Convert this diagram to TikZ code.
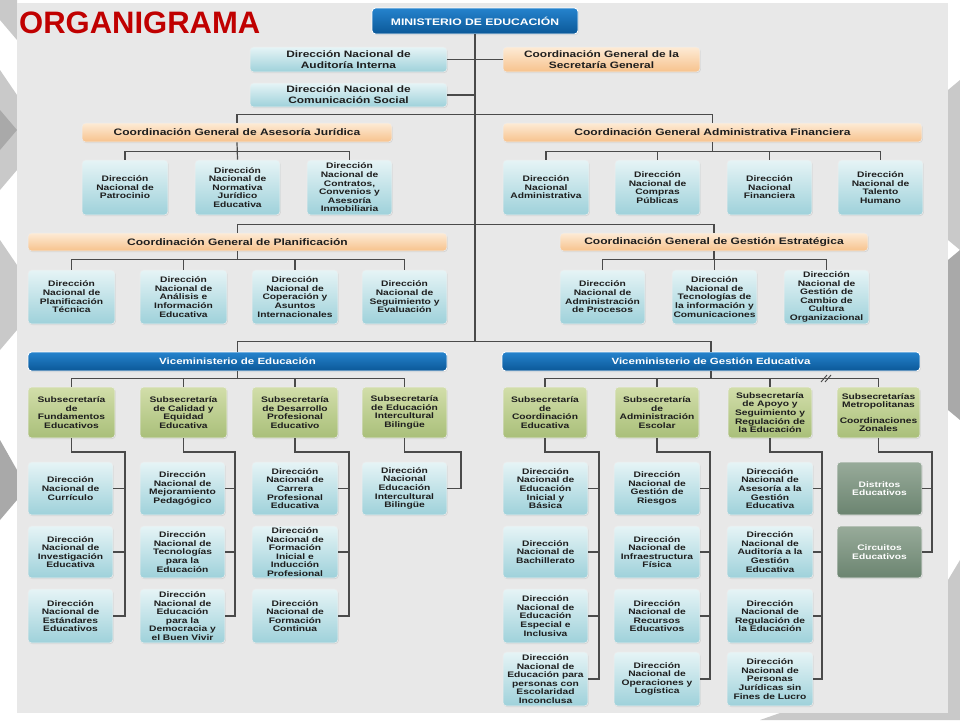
\documentclass[tikz,border=0pt]{standalone}
\usepackage{fontspec}
\setmainfont{Liberation Sans}[FakeStretch=1.28]
\newfontfamily\titlefont{Liberation Sans}
\usetikzlibrary{shadows}
\definecolor{panel}{HTML}{E8E8E8}
\definecolor{lncol}{HTML}{4A4A4A}
\definecolor{txt}{HTML}{1E1E1E}
\definecolor{lbT}{HTML}{E6F4F6}
\definecolor{lbB}{HTML}{9ED1DA}
\definecolor{orT}{HTML}{FDEBD6}
\definecolor{orB}{HTML}{F7C28C}
\definecolor{grT}{HTML}{D2DEAA}
\definecolor{grB}{HTML}{A9BF79}
\definecolor{blT}{HTML}{2583CD}
\definecolor{blB}{HTML}{0B5898}
\definecolor{dkT}{HTML}{98AB9A}
\definecolor{dkB}{HTML}{6B8470}
\definecolor{titred}{HTML}{C00000}
\definecolor{decoA}{HTML}{C9C9C9}
\definecolor{decoB}{HTML}{A9A9A9}
\newcommand\bx[7]{\node[#2, minimum width={#5-#3}, minimum height={#6-#4}] (#1) at ({(#3+#5)/2},{(#4+#6)/2}) {#7};}
\begin{document}
\begin{tikzpicture}[x=1pt,y=-1pt,
  basebox/.style={rounded corners=3.5pt, align=center, inner sep=1pt, draw=white!85!gray, line width=0.6pt,
     drop shadow={opacity=0.18,shadow xshift=0.8pt,shadow yshift=-1pt}},
  smallfont/.style={font=\bfseries\fontsize{8}{8.6}\selectfont},
  lb/.style={basebox, smallfont, top color=lbT, bottom color=lbB, text=txt},
  gr/.style={basebox, smallfont, top color=grT, bottom color=grB, text=txt},
  dk/.style={basebox, smallfont, top color=dkT, bottom color=dkB, text=white},
  topb/.style={basebox, font=\bfseries\fontsize{9.3}{11}\selectfont, top color=lbT, bottom color=lbB, text=txt},
  topo/.style={basebox, font=\bfseries\fontsize{9.3}{11}\selectfont, top color=orT, bottom color=orB, text=txt},
  coord/.style={basebox, font=\bfseries\fontsize{9.4}{11}\selectfont, top color=orT, bottom color=orB, text=txt},
  vice/.style={basebox, draw=white, line width=0.9pt, font=\bfseries\fontsize{9}{11}\selectfont, top color=blT, bottom color=blB, text=white},
  minb/.style={vice, font=\bfseries\fontsize{9.5}{11}\selectfont},
  ln/.style={draw=lncol, line width=1.2pt}]
\useasboundingbox (0,0) rectangle (960,720);
\fill[white] (0,0) rectangle (960,720);
% decorations at the edges
\fill[decoA] (0,0) -- (17,0) -- (17,40) -- (0,20) -- cycle;
\fill[decoA] (0,70) -- (17,95) -- (17,170) -- (0,190) -- cycle;
\fill[decoB] (0,110) -- (17,130) -- (0,150) -- cycle;
\fill[decoA] (0,240) -- (17,265) -- (17,330) -- (0,350) -- cycle;
\fill[decoB] (0,440) -- (17,470) -- (17,500) -- (0,520) -- cycle;
\fill[decoA] (948,90) -- (960,80) -- (960,250) -- (948,240) -- cycle;
\fill[decoB] (948,260) -- (960,250) -- (960,420) -- (948,410) -- cycle;
\fill[decoA] (948,580) -- (960,560) -- (960,720) -- (948,720) -- cycle;
\fill[decoA] (780,713) -- (948,713) -- (948,720) -- (760,720) -- cycle;
\fill[panel] (17,3) rectangle (948,713);
% title
\node[anchor=base west, inner sep=0pt, text=titred, font=\titlefont\bfseries\fontsize{31}{31}\selectfont] (title) at (19,33) {ORGANIGRAMA};
% top
\bx{min}{minb}{372}{8}{578}{34}{MINISTERIO DE EDUCACIÓN}
\bx{aud}{topb}{250}{47}{447}{72}{Dirección Nacional de\\Auditoría Interna}
\bx{sec}{topo}{503}{47}{700}{72}{Coordinación General de la\\Secretaría General}
\bx{com}{topb}{250}{83}{447}{107}{Dirección Nacional de\\Comunicación Social}
\bx{cgaj}{coord}{82}{123}{392}{142}{Coordinación General de Asesoría Jurídica}
\bx{cgaf}{coord}{503}{123}{922}{142}{Coordinación General Administrativa Financiera}
% row A
\bx{pat}{lb}{82}{160}{168}{215}{Dirección\\Nacional de\\Patrocinio}
\bx{nor}{lb}{195}{160}{280}{215}{Dirección\\Nacional de\\Normativa\\Jurídico\\Educativa}
\bx{con}{lb}{307}{160}{392}{215}{Dirección\\Nacional de\\Contratos,\\Convenios y\\Asesoría\\Inmobiliaria}
\bx{adm}{lb}{503}{160}{589}{215}{Dirección\\Nacional\\Administrativa}
\bx{cpu}{lb}{615}{160}{700}{215}{Dirección\\Nacional de\\Compras\\Públicas}
\bx{fin}{lb}{727}{160}{812}{215}{Dirección\\Nacional\\Financiera}
\bx{tal}{lb}{838}{160}{923}{215}{Dirección\\Nacional de\\Talento\\Humano}
% planning row
\bx{cgp}{coord}{28}{233}{447}{251}{Coordinación General de Planificación}
\bx{cgge}{coord}{560}{233}{868}{251}{Coordinación General de Gestión Estratégica}
\bx{p1}{lb}{28}{270}{115}{324}{Dirección\\Nacional de\\Planificación\\Técnica}
\bx{p2}{lb}{140}{270}{227}{324}{Dirección\\Nacional de\\Análisis e\\Información\\Educativa}
\bx{p3}{lb}{252}{270}{338}{324}{Dirección\\Nacional de\\Coperación y\\Asuntos\\Internacionales}
\bx{p4}{lb}{362}{270}{447}{324}{Dirección\\Nacional de\\Seguimiento y\\Evaluación}
\bx{g1}{lb}{560}{270}{645}{324}{Dirección\\Nacional de\\Administración\\de Procesos}
\bx{g2}{lb}{672}{270}{757}{324}{Dirección\\Nacional de\\Tecnologías de\\la información y\\Comunicaciones}
\bx{g3}{lb}{784}{270}{869}{324}{Dirección\\Nacional de\\Gestión de\\Cambio de\\Cultura\\Organizacional}
% vice
\bx{ve}{vice}{28}{352}{447}{371}{Viceministerio de Educación}
\bx{vge}{vice}{502}{352}{920}{371}{Viceministerio de Gestión Educativa}
% subsecretarias
\bx{s1}{gr}{28}{387}{115}{438}{Subsecretaría\\de\\Fundamentos\\Educativos}
\bx{s2}{gr}{140}{387}{227}{438}{Subsecretaría\\de Calidad y\\Equidad\\Educativa}
\bx{s3}{gr}{252}{387}{338}{438}{Subsecretaría\\de Desarrollo\\Profesional\\Educativo}
\bx{s4}{gr}{362}{387}{447}{438}{Subsecretaría\\de Educación\\Intercultural\\Bilingüe}
\bx{s5}{gr}{503}{387}{587}{438}{Subsecretaría\\de\\Coordinación\\Educativa}
\bx{s6}{gr}{615}{387}{699}{438}{Subsecretaría\\de\\Administración\\Escolar}
\bx{s7}{gr}{728}{387}{812}{438}{Subsecretaría\\de Apoyo y\\Seguimiento y\\Regulación de\\la Educación}
\bx{s8}{gr}{837}{387}{920}{438}{Subsecretarías\\Metropolitanas\\[7pt]Coordinaciones\\Zonales}
% children col 1-4
\bx{a1}{lb}{28}{462}{113}{515}{Dirección\\Nacional de\\Currículo}
\bx{a2}{lb}{28}{526}{113}{578}{Dirección\\Nacional de\\Investigación\\Educativa}
\bx{a3}{lb}{28}{589}{113}{643}{Dirección\\Nacional de\\Estándares\\Educativos}
\bx{b1}{lb}{140}{462}{225}{515}{Dirección\\Nacional de\\Mejoramiento\\Pedagógico}
\bx{b2}{lb}{140}{526}{225}{578}{Dirección\\Nacional de\\Tecnologías\\para la\\Educación}
\bx{b3}{lb}{140}{589}{225}{643}{Dirección\\Nacional de\\Educación\\para la\\Democracia y\\el Buen Vivir}
\bx{c1}{lb}{252}{462}{338}{515}{Dirección\\Nacional de\\Carrera\\Profesional\\Educativa}
\bx{c2}{lb}{252}{526}{338}{578}{Dirección\\Nacional de\\Formación\\Inicial e\\Inducción\\Profesional}
\bx{c3}{lb}{252}{589}{338}{643}{Dirección\\Nacional de\\Formación\\Continua}
\bx{e1}{lb}{362}{462}{447}{515}{Dirección\\Nacional\\Educación\\Intercultural\\Bilingüe}
% children col 5-8
\bx{f1}{lb}{503}{462}{588}{515}{Dirección\\Nacional de\\Educación\\Inicial y\\Básica}
\bx{f2}{lb}{503}{526}{588}{578}{Dirección\\Nacional de\\Bachillerato}
\bx{f3}{lb}{503}{589}{588}{643}{Dirección\\Nacional de\\Educación\\Especial e\\Inclusiva}
\bx{f4}{lb}{503}{652}{588}{706}{Dirección\\Nacional de\\Educación para\\personas con\\Escolaridad\\Inconclusa}
\bx{h1}{lb}{614}{462}{700}{515}{Dirección\\Nacional de\\Gestión de\\Riesgos}
\bx{h2}{lb}{614}{526}{700}{578}{Dirección\\Nacional de\\Infraestructura\\Física}
\bx{h3}{lb}{614}{589}{700}{643}{Dirección\\Nacional de\\Recursos\\Educativos}
\bx{h4}{lb}{614}{652}{700}{706}{Dirección\\Nacional de\\Operaciones y\\Logística}
\bx{k1}{lb}{727}{462}{813}{515}{Dirección\\Nacional de\\Asesoría a la\\Gestión\\Educativa}
\bx{k2}{lb}{727}{526}{813}{578}{Dirección\\Nacional de\\Auditoría a la\\Gestión\\Educativa}
\bx{k3}{lb}{727}{589}{813}{643}{Dirección\\Nacional de\\Regulación de\\la Educación}
\bx{k4}{lb}{727}{652}{813}{706}{Dirección\\Nacional de\\Personas\\Jurídicas sin\\Fines de Lucro}
\bx{m1}{dk}{837}{462}{922}{515}{Distritos\\Educativos}
\bx{m2}{dk}{837}{526}{922}{578}{Circuitos\\Educativos}
% ---- connectors
\coordinate (tend) at (475,342);
\draw[ln] (min.south) -- (tend);
\draw[ln] (aud.east) -- (aud.east -| min.south);
\draw[ln] (sec.west) -- (sec.west -| min.south);
\draw[ln] (com.east) -- (com.east -| min.south);
\draw[ln] (cgaj.north) -- ++(0,-8) -| (cgaf.north);
\draw[ln] (cgaj.south) -- (nor.north);
\draw[ln] (pat.north) -- ++(0,-8) -| (con.north);
\draw[ln] (cgaf.south) -- ++(0,10);
\draw[ln] (adm.north) -- ++(0,-8) -| (tal.north);
\draw[ln] (cpu.north) -- ++(0,-8);
\draw[ln] (fin.north) -- ++(0,-8);
\draw[ln] (cgp.north) -- ++(0,-8) -| (cgge.north);
\draw[ln] (cgp.south) -- ++(0,9);
\draw[ln] (p1.north) -- ++(0,-10) -| (p4.north);
\draw[ln] (p2.north) -- ++(0,-10);
\draw[ln] (p3.north) -- ++(0,-10);
\draw[ln] (cgge.south) -- ++(0,9);
\draw[ln] (g1.north) -- ++(0,-10) -| (g3.north);
\draw[ln] (g2.north) -- ++(0,-10);
\draw[ln] (ve.north) -- ++(0,-10) -| (vge.north);
\draw[ln] (ve.south) -- ++(0,8);
\draw[ln] (s1.north) -- ++(0,-8) -| (s4.north);
\draw[ln] (s2.north) -- ++(0,-8);
\draw[ln] (s3.north) -- ++(0,-8);
\draw[ln] (vge.south) -- ++(0,8);
\draw[ln] (s5.north) -- ++(0,-8) -| (s8.north);
\draw[ln] (s6.north) -- ++(0,-8);
\draw[ln] (s7.north) -- ++(0,-8);
\draw[lncol, line width=0.9pt] (821,382) -- (827,375) (825,382) -- (831,375);
% subsecretaria to children
\coordinate (v1) at (125,452);
\coordinate (v2) at (235,452);
\coordinate (v3) at (349,452);
\coordinate (v4) at (461,452);
\coordinate (v5) at (599,452);
\coordinate (v6) at (710,452);
\coordinate (v7) at (822,452);
\coordinate (v8) at (932,452);
\draw[ln] (s1.south) |- (v1) |- (a3.east);
\draw[ln] (a1.east) -- (a1.east -| v1);
\draw[ln] (a2.east) -- (a2.east -| v1);
\draw[ln] (s2.south) |- (v2) |- (b3.east);
\draw[ln] (b1.east) -- (b1.east -| v2);
\draw[ln] (b2.east) -- (b2.east -| v2);
\draw[ln] (s3.south) |- (v3) |- (c3.east);
\draw[ln] (c1.east) -- (c1.east -| v3);
\draw[ln] (c2.east) -- (c2.east -| v3);
\draw[ln] (s4.south) |- (v4) |- (e1.east);
\draw[ln] (s5.south) |- (v5) |- (f4.east);
\draw[ln] (f1.east) -- (f1.east -| v5);
\draw[ln] (f2.east) -- (f2.east -| v5);
\draw[ln] (f3.east) -- (f3.east -| v5);
\draw[ln] (s6.south) |- (v6) |- (h4.east);
\draw[ln] (h1.east) -- (h1.east -| v6);
\draw[ln] (h2.east) -- (h2.east -| v6);
\draw[ln] (h3.east) -- (h3.east -| v6);
\draw[ln] (s7.south) |- (v7) |- (k4.east);
\draw[ln] (k1.east) -- (k1.east -| v7);
\draw[ln] (k2.east) -- (k2.east -| v7);
\draw[ln] (k3.east) -- (k3.east -| v7);
\draw[ln] (s8.south) |- (v8) |- (m2.east);
\draw[ln] (m1.east) -- (m1.east -| v8);
\end{tikzpicture}
\end{document}
